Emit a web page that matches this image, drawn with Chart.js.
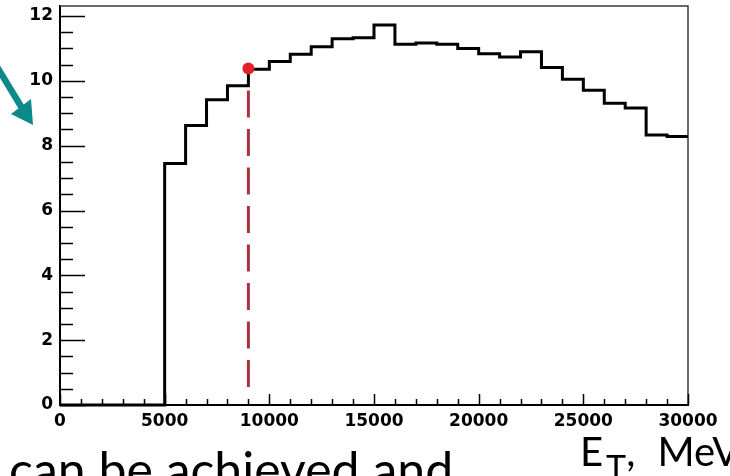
<!DOCTYPE html>
<html>
<head>
<meta charset="utf-8">
<script src="https://cdn.jsdelivr.net/npm/chart.js@4.4.1/dist/chart.umd.min.js"></script>
<style>
  html, body { margin: 0; padding: 0; background: #fff; }
  #wrap { position: relative; width: 730px; height: 476px; overflow: hidden; background: #fff; }
  #c { position: absolute; left: 0; top: 0; }
  .slide { position: absolute; font-family: Lato, "Open Sans", sans-serif; color: #000; white-space: nowrap; line-height: 1.2; }
  #t1 { left: 9px; top: 439px; font-size: 50px; }
  #t2 { left: 580px; top: 427px; font-size: 40px; word-spacing: 12px; }
  #t2 sub { font-size: 34px; vertical-align: -14px; line-height: 0; margin-left: 3px; }
  #arrow { position: absolute; left: 0; top: 0; }
</style>
</head>
<body>
<div id="wrap">
  <canvas id="c" width="730" height="476"></canvas>
  <svg id="arrow" width="60" height="140">
    <line x1="-6" y1="62" x2="22" y2="108" stroke="#0c898a" stroke-width="6.5"/>
    <polygon points="33,125 11,114 31,99" fill="#0c898a"/>
  </svg>
  <div class="slide" id="t1">can be achieved and</div>
  <div class="slide" id="t2">E<sub>T</sub>, MeV</div>
</div>
<script>
// ---- data ----
const binStarts = [0, 1000, 2000, 3000, 4000, 5000, 6000, 7000, 8000, 9000,
                   10000, 11000, 12000, 13000, 14000, 15000, 16000, 17000, 18000, 19000,
                   20000, 21000, 22000, 23000, 24000, 25000, 26000, 27000, 28000, 29000];
const binValues = [0, 0, 0, 0, 0, 7.45, 8.62, 9.42, 9.85, 10.36,
                   10.60, 10.82, 11.05, 11.30, 11.33, 11.72, 11.13, 11.17, 11.13, 11.00,
                   10.84, 10.74, 10.90, 10.41, 10.05, 9.71, 9.31, 9.16, 8.33, 8.28];
const histEnd = 30000;
const markerX = [9000];
const markerY = [10.38];
const cutLineX = [9000, 9000];
const cutLineY = [9.7, 0.5];
const xTickValues = [0, 5000, 10000, 15000, 20000, 25000, 30000];
const yTickValues = [0, 2, 4, 6, 8, 10, 12];
const xMinorStep = 1000;
const yMinorStep = 0.5;

// build tables for the library
const histPoints = binStarts.map((x, i) => ({ x: x, y: binValues[i] }));
histPoints.push({ x: histEnd, y: binValues[binValues.length - 1] });
const markerPoints = markerX.map((x, i) => ({ x: x, y: markerY[i] }));
const cutPoints = cutLineX.map((x, i) => ({ x: x, y: cutLineY[i] }));

const frameAndTicks = {
  id: 'frameAndTicks',
  beforeDatasetsDraw(chart) {
    const ctx = chart.ctx, a = chart.chartArea;
    const xs = chart.scales.x, ys = chart.scales.y;
    ctx.save();
    ctx.strokeStyle = '#3a3a3a';
    ctx.lineWidth = 1.5;
    ctx.beginPath();
    ctx.moveTo(a.left, a.top); ctx.lineTo(a.right, a.top); ctx.lineTo(a.right, a.bottom);
    ctx.stroke();
    ctx.strokeStyle = '#000';
    ctx.lineWidth = 1.5;
    ctx.beginPath();
    for (let v = xs.min; v <= xs.max + 1e-6; v += xMinorStep) {
      const px = Math.round(xs.getPixelForValue(v)) + 0.5;
      const major = xTickValues.includes(Math.round(v));
      ctx.moveTo(px, a.bottom); ctx.lineTo(px, a.bottom - (major ? 11 : 6));
    }
    for (let v = 0; v <= ys.max + 1e-6; v += yMinorStep) {
      const py = Math.round(ys.getPixelForValue(v)) + 0.5;
      const major = yTickValues.includes(Math.round(v * 100) / 100);
      ctx.moveTo(a.left, py); ctx.lineTo(a.left + (major ? 25 : 13), py);
    }
    ctx.stroke();
    ctx.restore();
  }
};

new Chart(document.getElementById('c'), {
  type: 'line',
  data: {
    datasets: [
      {
        type: 'scatter',
        data: markerPoints,
        pointRadius: 6,
        pointBackgroundColor: '#e0232b',
        pointBorderColor: '#e0232b',
        pointBorderWidth: 0,
        showLine: false,
        clip: false
      },
      {
        data: cutPoints,
        borderColor: '#a8343f',
        borderWidth: 3,
        borderDash: [27, 11.5],
        pointRadius: 0,
        fill: false,
        clip: false
      },
      {
        data: histPoints,
        stepped: 'before',
        borderColor: '#000',
        borderWidth: 3,
        pointRadius: 0,
        fill: false,
        clip: false
      }
    ]
  },
  options: {
    responsive: false,
    animation: false,
    devicePixelRatio: 1,
    layout: { padding: { top: 5, right: 42, left: 0, bottom: 0 } },
    plugins: { legend: { display: false }, tooltip: { enabled: false } },
    scales: {
      x: {
        type: 'linear',
        min: 0, max: 30000,
        afterFit(s) { s.height = 71; s.paddingLeft = 0; s.paddingRight = 0; },
        afterBuildTicks(s) { s.ticks = xTickValues.map(v => ({ value: v })); },
        grid: { display: true, drawOnChartArea: false, drawTicks: false },
        border: { display: true, color: '#000', width: 2 },
        ticks: {
          color: '#000', padding: 6, maxRotation: 0, autoSkip: false,
          font: { family: 'DejaVu Sans', weight: 'bold', size: 17 },
          callback: v => String(v)
        }
      },
      y: {
        type: 'linear',
        min: 0, max: 12.31,
        afterFit(s) { s.width = 60; s.paddingTop = 0; s.paddingBottom = 0; },
        afterBuildTicks(s) { s.ticks = yTickValues.map(v => ({ value: v })); },
        grid: { display: true, drawOnChartArea: false, drawTicks: false },
        border: { display: true, color: '#000', width: 2 },
        ticks: {
          color: '#000', padding: 7, autoSkip: false,
          font: { family: 'DejaVu Sans', weight: 'bold', size: 17 },
          callback: v => String(v)
        }
      }
    }
  },
  plugins: [frameAndTicks]
});
</script>
</body>
</html>
